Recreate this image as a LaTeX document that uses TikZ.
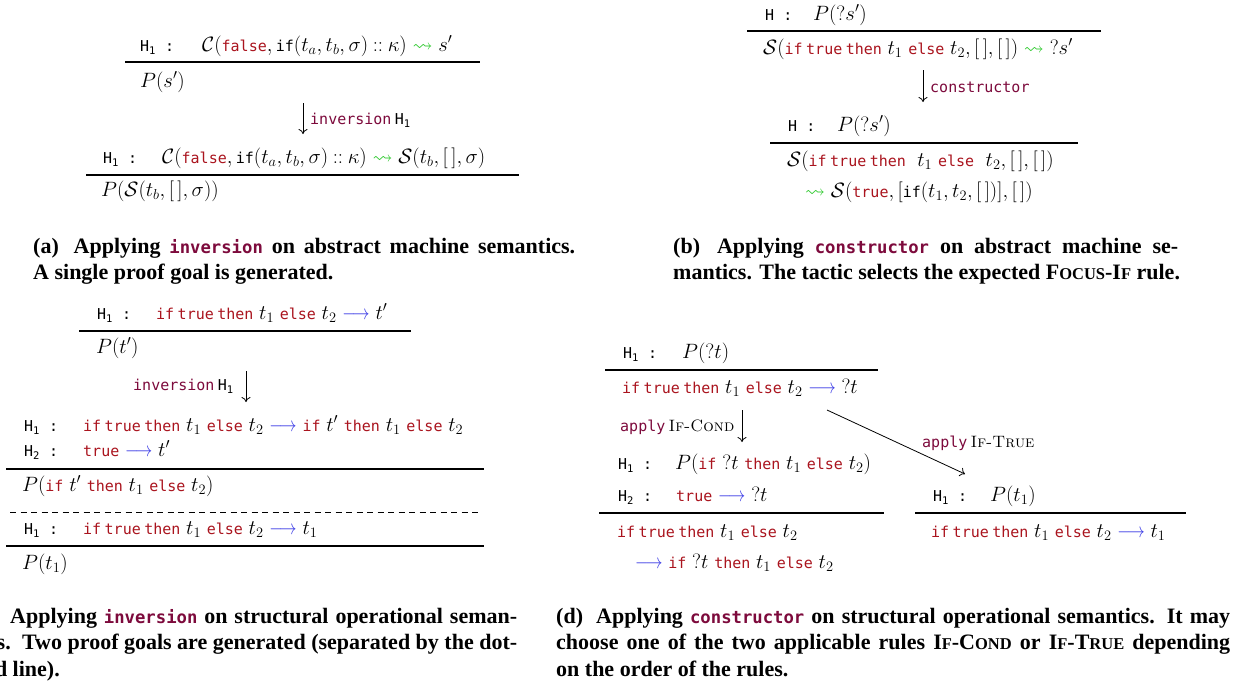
\documentclass[tikz,border=0pt]{standalone}
\usepackage{amsmath}
\usepackage{amssymb}
\usepackage{graphicx}
\usepackage{fontspec}
\setmonofont{DejaVu Sans Mono}[Scale=0.75]
\newfontfamily\capfont{Liberation Serif}
\usetikzlibrary{arrows.meta}
\definecolor{kwred}{RGB}{170,20,30}
\definecolor{tacc}{RGB}{125,10,60}
\definecolor{sqgreen}{RGB}{40,200,40}
\definecolor{arblue}{RGB}{60,60,230}
\newcommand{\kw}[1]{\textcolor{kwred}{\texttt{#1}}}
\newcommand{\tc}[1]{\textcolor{tacc}{\texttt{#1}}}
\newcommand{\tcc}[1]{\textcolor{tacc}{\fontsize{23}{23}\selectfont\texttt{#1}}}
\newcommand{\Hy}[1]{\texttt{H}$_{\texttt{#1}}$}
\newcommand{\st}{\mathrel{\textcolor{sqgreen}{\leadsto}}}
\newcommand{\lto}{\mathrel{\textcolor{arblue}{\scalebox{0.82}[1]{$\longrightarrow$}}}}
\newcommand{\q}{\mathord{?}}
\newcommand{\fsc}[2]{#1{\fontsize{16.5}{16}\selectfont #2}}
\newcommand{\rsc}[1]{{\fontsize{16.5}{18}\selectfont\textsc{#1}}}
\newcommand{\ite}{\kw{if}\,\kw{true}\,\kw{then}\;t_1\;\kw{else}\;t_2}
\begin{document}
\begin{tikzpicture}[x=1pt,y=-1pt,
  tx/.style={anchor=base west, inner sep=0pt, font=\fontsize{20}{24}\selectfont},
  rulel/.style={line width=2pt},
  sepline/.style={dash pattern=on 6pt off 4.5pt, line width=0.9pt},
  arr/.style={-{To[length=5pt,width=9pt]}, line width=0.8pt},
  captxt/.style={anchor=base west, inner sep=0pt, font=\capfont\bfseries\fontsize{22}{24}\selectfont},
  captxtr/.style={captxt, anchor=base east}]
\useasboundingbox (0,0) rectangle (1238,686);
\fill[white] (0,0) rectangle (1238,686);
\clip (0,0) rectangle (1238,686);

% ---------------- (a)
\node[tx] (a1h) at (140,51) {\Hy{1}\texttt{ :}};
\node[tx] (a1c) at (202,51) {$\mathcal{C}(\kw{false},\texttt{if}(t_a,t_b,\sigma)\mathbin{::}\kappa)\st s'$};
\coordinate (a1l) at (125,62); \coordinate (a1r) at (480,62);
\draw[rulel] (a1l) -- (a1r);
\node[tx] (a1g) at (140,87) {$P(s')$};
\coordinate (aA1) at (303,103); \coordinate (aA2) at (303,134);
\draw[arr] (aA1) -- (aA2);
\node[tx] (aL) at (310,124) {\tc{inversion}\,\Hy{1}};
\node[tx] (a2h) at (103,163) {\Hy{1}\texttt{ :}};
\node[tx] (a2c) at (162,163) {$\mathcal{C}(\kw{false},\texttt{if}(t_a,t_b,\sigma)\mathbin{::}\kappa)\st\mathcal{S}(t_b,[\,],\sigma)$};
\coordinate (a2l) at (86,175); \coordinate (a2r) at (519,175);
\draw[rulel] (a2l) -- (a2r);
\node[tx] (a2g) at (101,196) {$P(\mathcal{S}(t_b,[\,],\sigma))$};

\node[captxt] (capa1) at (33,253) {\makebox[542pt][s]{(a)\hspace{6pt} Applying \tcc{inversion} on abstract machine semantics.}};
\node[captxt] (capa2) at (33,279) {A single proof goal is generated.};

% ---------------- (b)
\node[tx] (b1h) at (765,20) {\texttt{H :}};
\node[tx] (b1p) at (813,20) {$P(\q s')$};
\coordinate (b1l) at (747,31); \coordinate (b1r) at (1101,31);
\draw[rulel] (b1l) -- (b1r);
\node[tx] (b1s) at (763,54) {$\mathcal{S}(\ite,[\,],[\,])\st \q s'$};
\coordinate (bA1) at (923,70); \coordinate (bA2) at (923,102);
\draw[arr] (bA1) -- (bA2);
\node[tx] (bL) at (930,92) {\tc{constructor}};
\node[tx] (b2h) at (788,131) {\texttt{H :}};
\node[tx] (b2p) at (837,131) {$P(\q s')$};
\coordinate (b2l) at (770,143); \coordinate (b2r) at (1078,143);
\draw[rulel] (b2l) -- (b2r);
\node[tx] (b2s) at (787,166) {$\mathcal{S}(\kw{if}\,\kw{true}\,\kw{then}\;\;t_1\;\kw{else}\;\;t_2,[\,],[\,])$};
\node[tx] (b3s) at (805,197) {$\st\mathcal{S}(\kw{true},[\texttt{if}(t_1,t_2,[\,])],[\,])$};

\node[captxt] (capb1) at (673,253) {\makebox[505pt][s]{(b)\hspace{6pt} Applying \tcc{constructor} on abstract machine se-}};
\node[captxt] (capb2) at (673,279) {mantics. The tactic selects the expected \fsc{F}{OCUS}-\fsc{I}{F} rule.};

% ---------------- (c)
\node[tx] (c1h) at (97,319) {\Hy{1}\texttt{ :}};
\node[tx] (c1c) at (156,319) {$\ite\lto t'$};
\coordinate (c1l) at (79,331); \coordinate (c1r) at (411,331);
\draw[rulel] (c1l) -- (c1r);
\node[tx] (c1g) at (96,353) {$P(t')$};
\node[tx] (cL) at (133,390) {\tc{inversion}\,\Hy{1}};
\coordinate (cA1) at (246,371); \coordinate (cA2) at (246,402);
\draw[arr] (cA1) -- (cA2);
\node[tx] (c2h1) at (24,431) {\Hy{1}\texttt{ :}};
\node[tx] (c2c1) at (83,431) {$\ite\lto\kw{if}\;t'\;\kw{then}\;t_1\;\kw{else}\;t_2$};
\node[tx] (c2h2) at (24,456) {\Hy{2}\texttt{ :}};
\node[tx] (c2c2) at (83,456) {$\kw{true}\lto t'$};
\coordinate (c2l) at (6,469); \coordinate (c2r) at (484,469);
\draw[rulel] (c2l) -- (c2r);
\node[tx] (c2g) at (22,491) {$P(\kw{if}\;t'\;\kw{then}\;t_1\;\kw{else}\;t_2)$};
\coordinate (cdl) at (10,512); \coordinate (cdr) at (482,512);
\draw[sepline] (cdl) -- (cdr);
\node[tx] (c3h) at (24,534) {\Hy{1}\texttt{ :}};
\node[tx] (c3c) at (83,534) {$\ite\lto t_1$};
\coordinate (c3l) at (6,546); \coordinate (c3r) at (484,546);
\draw[rulel] (c3l) -- (c3r);
\node[tx] (c3g) at (22,569) {$P(t_1)$};

\node[captxt] (capc1) at (10,623) {\makebox[507pt][s]{Applying \tcc{inversion} on structural operational seman-}};
\node[captxtr] (capc2a) at (11,649) {tics.};
\node[captxt] (capc2b) at (22,649) {\makebox[495pt][s]{Two proof goals are generated (separated by the dot-}};
\node[captxtr] (capc3) at (60,676) {ted line).};

% ---------------- (d)
\node[tx] (d1h) at (623,358) {\Hy{1}\texttt{ :}};
\node[tx] (d1p) at (682,358) {$P(\q t)$};
\coordinate (d1l) at (605,370); \coordinate (d1r) at (878,370);
\draw[rulel] (d1l) -- (d1r);
\node[tx] (d1s) at (622,393) {$\ite\lto \q t$};
\node[tx] (dL1) at (620,431) {\tc{apply}\,\rsc{If-Cond}};
\coordinate (dA1) at (742,410); \coordinate (dA2) at (742,442);
\draw[arr] (dA1) -- (dA2);
\coordinate (dB1) at (827,410); \coordinate (dB2) at (965,474);
\draw[arr] (dB1) -- (dB2);
\node[tx] (dL2) at (922,447) {\tc{apply}\,\rsc{If-True}};
\node[tx] (d2h1) at (618,469) {\Hy{1}\texttt{ :}};
\node[tx] (d2c1) at (675,469) {$P(\kw{if}\;\q t\;\kw{then}\;t_1\;\kw{else}\;t_2)$};
\node[tx] (d2h2) at (618,501) {\Hy{2}\texttt{ :}};
\node[tx] (d2c2) at (676,501) {$\kw{true}\lto \q t$};
\coordinate (d2l) at (599,513); \coordinate (d2r) at (884,513);
\draw[rulel] (d2l) -- (d2r);
\node[tx] (d2s1) at (617,537) {$\ite$};
\node[tx] (d2s2) at (635,568) {$\lto\kw{if}\;\q t\;\kw{then}\;t_1\;\kw{else}\;t_2$};
\node[tx] (d3h) at (933,501) {\Hy{1}\texttt{ :}};
\node[tx] (d3p) at (990,501) {$P(t_1)$};
\coordinate (d3l) at (915,513); \coordinate (d3r) at (1186,513);
\draw[rulel] (d3l) -- (d3r);
\node[tx] (d3s) at (931,537) {$\ite\lto t_1$};

\node[captxt] (capd1) at (556,623) {\makebox[674pt][s]{(d)\hspace{6pt} Applying \tcc{constructor} on structural operational semantics. It may}};
\node[captxt] (capd2) at (556,649) {\makebox[674pt][s]{choose one of the two applicable rules \fsc{I}{F}-\fsc{C}{OND} or \fsc{I}{F}-\fsc{T}{RUE} depending}};
\node[captxt] (capd3) at (556,676) {on the order of the rules.};
\end{tikzpicture}
\end{document}
